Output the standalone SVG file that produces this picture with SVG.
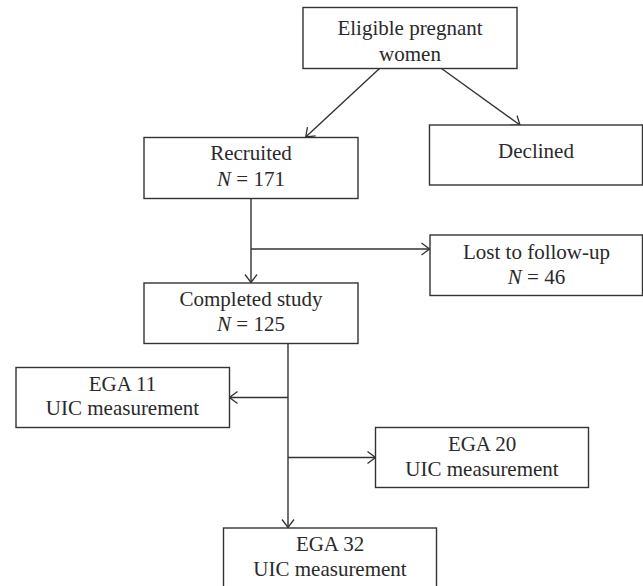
<svg xmlns="http://www.w3.org/2000/svg" width="643" height="586" viewBox="0 0 643 586">
<style>
.box{fill:#fff;stroke:#333;stroke-width:1.4}
.t{font-family:"Liberation Serif","Times New Roman",serif;font-size:21px;fill:#2a2a2a;text-anchor:middle}
.i{font-style:italic}
.c{fill:none;stroke:#333;stroke-width:1.4}
</style>
<defs>
<marker id="ah" viewBox="0 0 10 14" refX="9.5" refY="7" markerWidth="10" markerHeight="14" markerUnits="userSpaceOnUse" orient="auto">
<path d="M1.5,1 L9.5,7 L1.5,13" fill="none" stroke="#333" stroke-width="1.3"/>
</marker>
</defs>
<rect width="643" height="586" fill="#fff"/>
<g id="connectors">
<line class="c" x1="379.5" y1="68.5" x2="305.7" y2="137" marker-end="url(#ah)"/>
<line class="c" x1="441.5" y1="68.5" x2="520" y2="125" marker-end="url(#ah)"/>
<line class="c" x1="251" y1="198" x2="251" y2="282.5" marker-end="url(#ah)"/>
<line class="c" x1="251" y1="249" x2="429.5" y2="249" marker-end="url(#ah)"/>
<line class="c" x1="288" y1="343.5" x2="288" y2="527.5" marker-end="url(#ah)"/>
<line class="c" x1="288" y1="397.5" x2="229.5" y2="397.5" marker-end="url(#ah)"/>
<line class="c" x1="288" y1="457.5" x2="375.5" y2="457.5" marker-end="url(#ah)"/>
</g>
<g id="eligible">
<rect class="box" x="303" y="7.5" width="214" height="61"/>
<text class="t" x="410" y="35">Eligible pregnant</text>
<text class="t" x="410" y="61">women</text>
</g>
<g id="recruited">
<rect class="box" x="144" y="137.5" width="214" height="61"/>
<text class="t" x="251" y="160">Recruited</text>
<text class="t" x="251" y="186"><tspan class="i">N</tspan> = 171</text>
</g>
<g id="declined">
<rect class="box" x="429.5" y="125" width="213" height="60"/>
<text class="t" x="536" y="158">Declined</text>
</g>
<g id="lost">
<rect class="box" x="430" y="235" width="212.5" height="60.5"/>
<text class="t" x="536.5" y="258.5">Lost to follow-up</text>
<text class="t" x="536.5" y="283.5"><tspan class="i">N</tspan> = 46</text>
</g>
<g id="completed">
<rect class="box" x="144" y="283" width="214" height="60.5"/>
<text class="t" x="251" y="305.5">Completed study</text>
<text class="t" x="251" y="331"><tspan class="i">N</tspan> = 125</text>
</g>
<g id="ega11">
<rect class="box" x="16" y="367.5" width="213.5" height="60"/>
<text class="t" x="122.5" y="391">EGA 11</text>
<text class="t" x="122.5" y="415">UIC measurement</text>
</g>
<g id="ega20">
<rect class="box" x="375.5" y="427.5" width="213" height="60"/>
<text class="t" x="482" y="451">EGA 20</text>
<text class="t" x="482" y="476">UIC measurement</text>
</g>
<g id="ega32">
<rect class="box" x="223.5" y="528" width="213" height="61"/>
<text class="t" x="330" y="550.5">EGA 32</text>
<text class="t" x="330" y="576">UIC measurement</text>
</g>
</svg>
